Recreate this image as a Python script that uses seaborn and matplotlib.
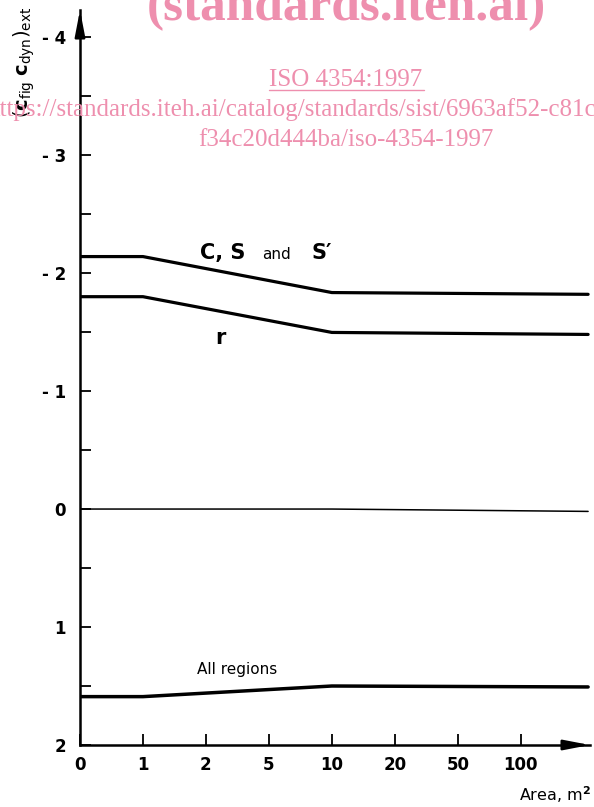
import pandas as pd
import matplotlib.pyplot as plt
import seaborn as sns
from matplotlib.lines import Line2D

# --- Data ---
area_labels = ["0", "1", "2", "5", "10", "20", "50", "100"]
# break points of the curves: area 0, 1, 10 and the right end of the axis
break_pos = [0, 1, 4, 8.07]
cs_vals = [-2.14, -2.14, -1.835, -1.82]
r_vals = [-1.80, -1.80, -1.497, -1.48]
zero_vals = [0.0, 0.0, 0.0, 0.02]
all_vals = [1.59, 1.59, 1.50, 1.508]
y_ticks = [-4, -3, -2, -1, 0, 1, 2]
y_tick_labels = ["- 4", "- 3", "- 2", "- 1", "0", "1", "2"]

df = pd.DataFrame({
    "pos": break_pos * 4,
    "value": cs_vals + r_vals + zero_vals + all_vals,
    "series": ["cs"] * 4 + ["r"] * 4 + ["zero"] * 4 + ["all"] * 4,
})

sns.set_theme(style="ticks")
plt.rcParams['font.family'] = ['DejaVu Sans']
plt.rcParams['text.color'] = 'black'
plt.rcParams['xtick.color'] = 'black'
plt.rcParams['ytick.color'] = 'black'
pink = "#ee8fae"

fig = plt.figure(figsize=(5.94, 8.07), dpi=100)
ax = fig.add_axes([80 / 594, 1 - 745 / 807, 510 / 594, 735 / 807])

widths = {"cs": 2.3, "r": 2.3, "zero": 1.1, "all": 2.5}
for name, lw in widths.items():
    sns.lineplot(data=df[df["series"] == name], x="pos", y="value",
                 color="black", linewidth=lw, ax=ax, legend=False)

ax.set_xlim(0, 8.1)
ax.set_ylim(2, -4.23)

ax.set_xticks(range(len(area_labels)))
ax.set_xticklabels(area_labels, fontsize=12, fontweight="bold")
ax.set_yticks(y_ticks)
ax.set_yticklabels(y_tick_labels, fontsize=12, fontweight="bold")
ax.set_yticks([v + 0.5 for v in y_ticks[:-1]], minor=True)
ax.tick_params(axis="y", which="both", direction="in", length=8, width=1.3, pad=10,
               colors="black", labelcolor="black")
ax.tick_params(axis="x", which="major", direction="in", length=8, width=1.3, pad=8,
               colors="black", labelcolor="black")
ax.set_xlabel("")
ax.set_ylabel("")

sns.despine(ax=ax)
for s in ["left", "bottom"]:
    ax.spines[s].set_linewidth(1.8)
    ax.spines[s].set_color("black")

# axis arrows
ax.annotate("", xy=(0, 1.0), xytext=(0, 0.97), xycoords="axes fraction",
            arrowprops=dict(arrowstyle="-|>,head_length=1.3,head_width=0.25",
                            color="black", lw=1.8, shrinkA=0, shrinkB=0))
ax.annotate("", xy=(1.0, 0), xytext=(0.955, 0), xycoords="axes fraction",
            arrowprops=dict(arrowstyle="-|>,head_length=1.3,head_width=0.25",
                            color="black", lw=1.8, shrinkA=0, shrinkB=0))

# curve labels
ax.text(1.9, -2.17, "C, S", fontsize=15, fontweight="bold", va="center", ha="left")
ax.text(2.89, -2.16, "and", fontsize=11, va="center", ha="left")
ax.text(3.67, -2.17, "S\u2032", fontsize=15, fontweight="bold", va="center", ha="left")
ax.text(2.15, -1.45, "r", fontsize=15, fontweight="bold", va="center", ha="left")
ax.text(1.86, 1.36, "All regions", fontsize=11, va="center", ha="left")

fig.text(591 / 594, 1 - 795 / 807, "Area, m$^\\mathbf{2}$", fontsize=11.5,
         ha="right", va="center")
fig.text(24 / 594, 1 - 62 / 807, r"$(\mathbf{c}_{\rm fig}\;\mathbf{c}_{\rm dyn})_{\rm ext}$",
         fontsize=14, rotation=90, ha="center", va="center")

# watermark
fig.text(0.583, 1 - 20 / 807, "(standards.iteh.ai)", family="Liberation Serif",
         fontweight="bold", fontsize=37, color=pink, ha="center", va="baseline")
fig.text(346 / 594, 1 - 80 / 807, "ISO 4354:1997", family="Liberation Serif",
         fontsize=18, color=pink, ha="center", va="center")
fig.add_artist(Line2D([269 / 594, 424 / 594], [1 - 90 / 807, 1 - 90 / 807],
                      color=pink, lw=1.0, transform=fig.transFigure))
fig.text(-12 / 594, 1 - 110 / 807,
         "https://standards.iteh.ai/catalog/standards/sist/6963af52-c81c-4",
         family="Liberation Serif", fontsize=18, color=pink, ha="left", va="center")
fig.text(346 / 594, 1 - 140 / 807, "f34c20d444ba/iso-4354-1997",
         family="Liberation Serif", fontsize=18, color=pink, ha="center", va="center")

plt.savefig("out.png", dpi=100)
